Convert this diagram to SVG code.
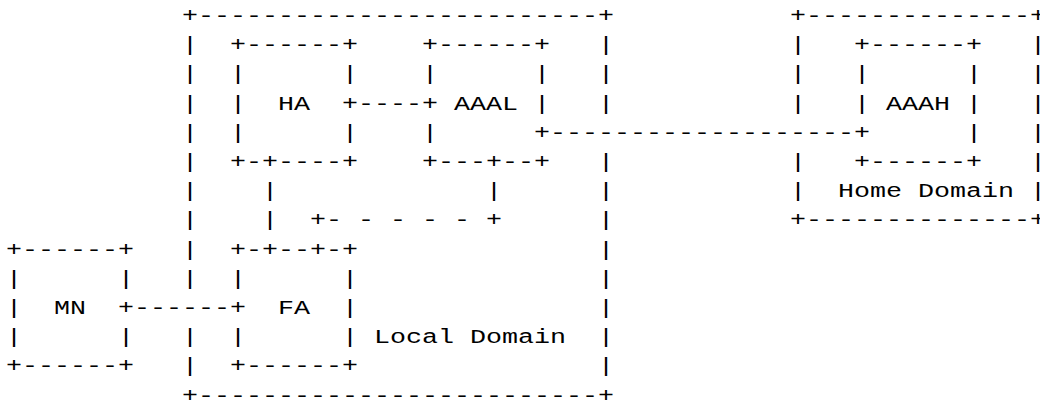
<svg xmlns="http://www.w3.org/2000/svg" width="1040" height="403" viewBox="0 0 1040 403">
<style>
text{font-family:"Liberation Mono","DejaVu Sans Mono",monospace;font-size:20px;fill:#000;white-space:pre}
</style>
<rect width="1040" height="403" fill="#fff"/>
<g transform="scale(1.333333,1)">
<g id="local-domain">
<text x="136.5" y="22">+-------------------------+</text>
<text><tspan x="136.5" y="51.2">|</tspan><tspan x="136.5" y="80.4">|</tspan><tspan x="136.5" y="109.6">|</tspan><tspan x="136.5" y="138.8">|</tspan><tspan x="136.5" y="168">|</tspan><tspan x="136.5" y="197.2">|</tspan><tspan x="136.5" y="226.4">|</tspan><tspan x="136.5" y="255.6">|</tspan><tspan x="136.5" y="284.8">|</tspan><tspan x="136.5" y="343.2">|</tspan><tspan x="136.5" y="372.4">|</tspan></text>
<text><tspan x="448.5" y="51.2">|</tspan><tspan x="448.5" y="80.4">|</tspan><tspan x="448.5" y="109.6">|</tspan><tspan x="448.5" y="168">|</tspan><tspan x="448.5" y="197.2">|</tspan><tspan x="448.5" y="226.4">|</tspan><tspan x="448.5" y="255.6">|</tspan><tspan x="448.5" y="284.8">|</tspan><tspan x="448.5" y="314">|</tspan><tspan x="448.5" y="343.2">|</tspan><tspan x="448.5" y="372.4">|</tspan></text>
<text x="136.5" y="401.6">+-------------------------+</text>
<text x="280.5" y="343.2">Local Domain</text>
</g>
<g id="home-domain">
<text x="592.5" y="22">+--------------+</text>
<text><tspan x="592.5" y="51.2">|</tspan><tspan x="592.5" y="80.4">|</tspan><tspan x="592.5" y="109.6">|</tspan><tspan x="592.5" y="168">|</tspan><tspan x="592.5" y="197.2">|</tspan></text>
<text><tspan x="772.5" y="51.2">|</tspan><tspan x="772.5" y="80.4">|</tspan><tspan x="772.5" y="109.6">|</tspan><tspan x="772.5" y="138.8">|</tspan><tspan x="772.5" y="168">|</tspan><tspan x="772.5" y="197.2">|</tspan></text>
<text x="592.5" y="226.4">+--------------+</text>
<text x="628.5" y="197.2">Home Domain</text>
</g>
<g id="ha">
<text x="172.5" y="51.2">+------+</text>
<text><tspan x="172.5" y="80.4">|</tspan><tspan x="172.5" y="109.6">|</tspan><tspan x="172.5" y="138.8">|</tspan></text>
<text><tspan x="256.5" y="80.4">|</tspan><tspan x="256.5" y="138.8">|</tspan></text>
<text x="172.5" y="168">+-+----+</text>
<text x="208.5" y="109.6">HA</text>
</g>
<g id="aaal">
<text x="316.5" y="51.2">+------+</text>
<text><tspan x="316.5" y="80.4">|</tspan><tspan x="316.5" y="138.8">|</tspan></text>
<text><tspan x="400.5" y="80.4">|</tspan><tspan x="400.5" y="109.6">|</tspan></text>
<text x="316.5" y="168">+---+--+</text>
<text x="340.5" y="109.6">AAAL</text>
</g>
<g id="aaah">
<text x="640.5" y="51.2">+------+</text>
<text><tspan x="640.5" y="80.4">|</tspan><tspan x="640.5" y="109.6">|</tspan></text>
<text><tspan x="724.5" y="80.4">|</tspan><tspan x="724.5" y="109.6">|</tspan><tspan x="724.5" y="138.8">|</tspan></text>
<text x="640.5" y="168">+------+</text>
<text x="664.5" y="109.6">AAAH</text>
</g>
<g id="fa">
<text x="172.5" y="255.6">+-+--+-+</text>
<text><tspan x="172.5" y="284.8">|</tspan><tspan x="172.5" y="343.2">|</tspan></text>
<text><tspan x="256.5" y="284.8">|</tspan><tspan x="256.5" y="314">|</tspan><tspan x="256.5" y="343.2">|</tspan></text>
<text x="172.5" y="372.4">+------+</text>
<text x="208.5" y="314">FA</text>
</g>
<g id="mn">
<text x="4.5" y="255.6">+------+</text>
<text><tspan x="4.5" y="284.8">|</tspan><tspan x="4.5" y="314">|</tspan><tspan x="4.5" y="343.2">|</tspan></text>
<text><tspan x="88.5" y="284.8">|</tspan><tspan x="88.5" y="343.2">|</tspan></text>
<text x="4.5" y="372.4">+------+</text>
<text x="40.5" y="314">MN</text>
</g>
<g id="connectors">
<text x="256.5" y="109.6">+----+</text>
<text x="400.5" y="138.8">+-------------------+</text>
<text x="88.5" y="314">+------+</text>
<text><tspan x="196.5" y="197.2">|</tspan><tspan x="196.5" y="226.4">|</tspan></text>
<text x="232.5" y="226.4">+- - - - - +</text>
<text x="364.5" y="197.2">|</text>
</g>
</g>
</svg>
